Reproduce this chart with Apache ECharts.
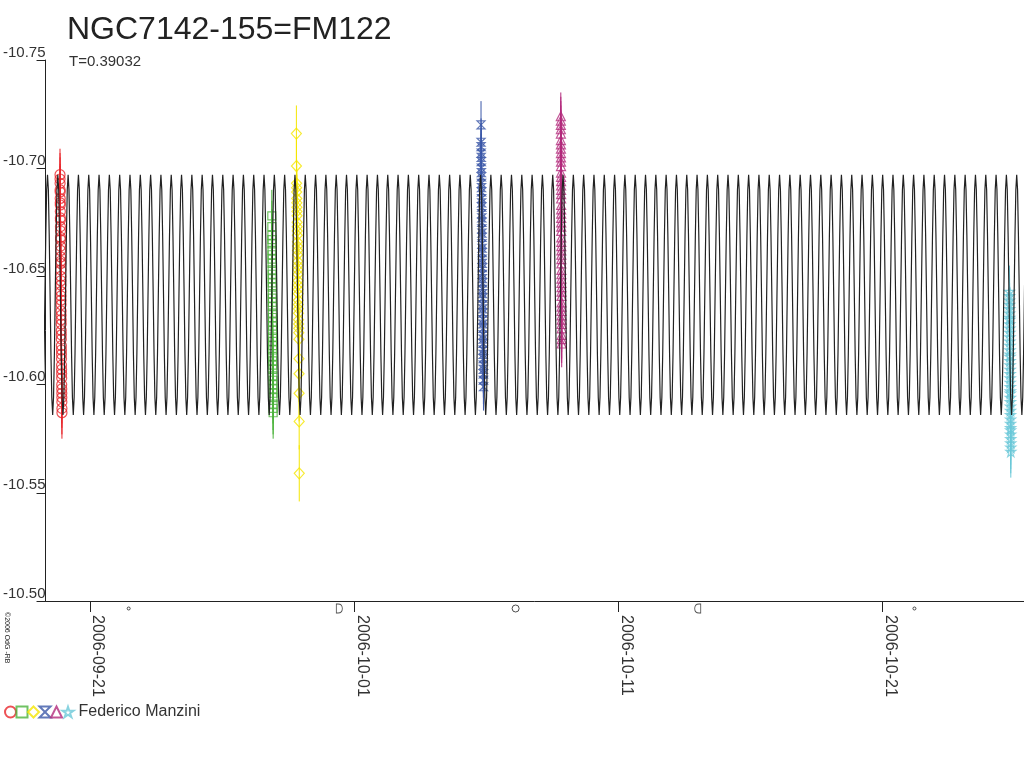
<!DOCTYPE html>
<html>
<head>
<meta charset="utf-8">
<title>NGC7142-155=FM122</title>
<script src="https://cdn.jsdelivr.net/npm/echarts@6/dist/echarts.min.js"></script>
<style>
	html, body { margin: 0; padding: 0; background: #fff; }
	#chart { width: 1024px; height: 768px; }
</style>
</head>
<body>
<div id="chart"></div>
<script>
// time is counted in days from 2006-09-21 00:00 UT
var dayZero = Date.UTC(2006, 8, 21);
var xMin = -1.676, xMax = 35.365;
var dateTicks = [0, 10, 20, 30];
var magMin = -10.75, magMax = -10.50, magStep = 0.05;

// light curve model: period from the chart, one cycle (starts at maximum)
var period = 0.39032;
var peakEpoch = -0.04;
var waveCycle = [-10.697, -10.690, -10.669, -10.642, -10.614, -10.594, -10.586,
	-10.594, -10.614, -10.642, -10.669, -10.690];

// observations, one array pair per night
var redT = [-1.1280, -1.1265, -1.1250, -1.1235, -1.1220, -1.1205, -1.1190, -1.1175, -1.1160, -1.1145,
	-1.1130, -1.1115, -1.1100, -1.1085, -1.1070, -1.1055, -1.1040, -1.1025, -1.1010, -1.0995,
	-1.0980, -1.0965, -1.0950, -1.0935, -1.0920, -1.0905, -1.0890, -1.0875, -1.0860, -1.0845,
	-1.0830, -1.0815, -1.0800, -1.0785, -1.0770, -1.0755, -1.0740, -1.0725, -1.0710, -1.0695,
	-1.0680, -1.0665, -1.0650, -1.0635, -1.0620, -1.0605, -1.0590, -1.0575, -1.0560, -1.0545];
var redV = [-10.697, -10.695, -10.693, -10.690, -10.689, -10.686, -10.684, -10.683, -10.680, -10.677,
	-10.676, -10.673, -10.671, -10.668, -10.667, -10.664, -10.662, -10.659, -10.657, -10.656,
	-10.653, -10.650, -10.648, -10.646, -10.643, -10.641, -10.639, -10.637, -10.634, -10.632,
	-10.630, -10.628, -10.625, -10.623, -10.621, -10.618, -10.616, -10.614, -10.612, -10.609,
	-10.607, -10.605, -10.603, -10.600, -10.598, -10.596, -10.594, -10.592, -10.589, -10.587];

var greenT = [6.8900, 6.8913, 6.8926, 6.8939, 6.8952, 6.8965, 6.8978, 6.8991, 6.9004, 6.9017,
	6.9030, 6.9043, 6.9056, 6.9069, 6.9082, 6.9095, 6.9108, 6.9121, 6.9134, 6.9147,
	6.9160, 6.9173, 6.9186, 6.9199, 6.9212, 6.9225, 6.9238, 6.9251, 6.9264, 6.9277,
	6.9290, 6.9303, 6.9316, 6.9329, 6.9342, 6.9355, 6.9368, 6.9381, 6.9394, 6.9407];
var greenV = [-10.678, -10.673, -10.669, -10.667, -10.665, -10.662, -10.660, -10.658, -10.656, -10.653,
	-10.651, -10.649, -10.647, -10.645, -10.642, -10.640, -10.638, -10.636, -10.633, -10.631,
	-10.629, -10.627, -10.625, -10.622, -10.620, -10.618, -10.616, -10.613, -10.611, -10.609,
	-10.607, -10.604, -10.602, -10.600, -10.598, -10.596, -10.594, -10.591, -10.589, -10.587];

var yellowT = [7.8200, 7.8228, 7.8256, 7.8284, 7.8312, 7.8340, 7.8368, 7.8396, 7.8424, 7.8452,
	7.8480, 7.8508, 7.8536, 7.8564, 7.8592, 7.8620, 7.8648, 7.8676, 7.8704, 7.8732,
	7.8760, 7.8788, 7.8816, 7.8844, 7.8872, 7.8900, 7.8928, 7.8956, 7.8984, 7.9012,
	7.9040, 7.9068, 7.9096, 7.9124, 7.9152, 7.9180, 7.9208, 7.9236, 7.9264, 7.9292];
var yellowV = [-10.716, -10.701, -10.693, -10.691, -10.689, -10.686, -10.684, -10.682, -10.680, -10.678,
	-10.675, -10.673, -10.671, -10.669, -10.666, -10.664, -10.662, -10.660, -10.657, -10.655,
	-10.653, -10.651, -10.648, -10.646, -10.644, -10.642, -10.639, -10.637, -10.635, -10.633,
	-10.630, -10.628, -10.626, -10.624, -10.621, -10.612, -10.605, -10.596, -10.583, -10.559];

var blueT = [14.8100, 14.8119, 14.8138, 14.8157, 14.8176, 14.8195, 14.8214, 14.8233, 14.8252, 14.8271,
	14.8290, 14.8309, 14.8328, 14.8347, 14.8366, 14.8385, 14.8404, 14.8423, 14.8442, 14.8461,
	14.8480, 14.8499, 14.8518, 14.8537, 14.8556, 14.8575, 14.8594, 14.8613, 14.8632, 14.8651,
	14.8670, 14.8689, 14.8708, 14.8727, 14.8746, 14.8765, 14.8784, 14.8803, 14.8822, 14.8841,
	14.8860, 14.8879, 14.8898, 14.8917, 14.8936, 14.8955, 14.8974, 14.8993, 14.9012, 14.9031];
var blueV = [-10.720, -10.712, -10.710, -10.707, -10.705, -10.703, -10.700, -10.698, -10.696, -10.693,
	-10.691, -10.689, -10.686, -10.684, -10.682, -10.679, -10.677, -10.675, -10.672, -10.670,
	-10.668, -10.665, -10.663, -10.661, -10.658, -10.656, -10.654, -10.651, -10.649, -10.647,
	-10.644, -10.642, -10.640, -10.637, -10.635, -10.633, -10.630, -10.628, -10.626, -10.623,
	-10.621, -10.619, -10.616, -10.614, -10.612, -10.609, -10.607, -10.605, -10.602, -10.599];

var magentaT = [17.8300, 17.8307, 17.8314, 17.8321, 17.8328, 17.8335, 17.8342, 17.8349, 17.8356, 17.8363,
	17.8370, 17.8377, 17.8384, 17.8391, 17.8398, 17.8405, 17.8412, 17.8419, 17.8426, 17.8433,
	17.8440, 17.8447, 17.8454, 17.8461, 17.8468, 17.8475, 17.8482, 17.8489, 17.8496, 17.8503,
	17.8510, 17.8517, 17.8524, 17.8531, 17.8538, 17.8545, 17.8552, 17.8559, 17.8566, 17.8573,
	17.8580, 17.8587, 17.8594, 17.8601, 17.8608, 17.8615, 17.8622, 17.8629, 17.8636, 17.8643];
var magentaV = [-10.724, -10.722, -10.720, -10.718, -10.716, -10.713, -10.711, -10.709, -10.707, -10.705,
	-10.703, -10.701, -10.698, -10.696, -10.694, -10.692, -10.690, -10.688, -10.686, -10.683,
	-10.681, -10.679, -10.677, -10.675, -10.673, -10.671, -10.668, -10.666, -10.664, -10.662,
	-10.660, -10.658, -10.656, -10.653, -10.651, -10.649, -10.647, -10.645, -10.643, -10.641,
	-10.638, -10.636, -10.634, -10.632, -10.630, -10.628, -10.626, -10.623, -10.621, -10.619];

var cyanT = [34.8150, 34.8163, 34.8176, 34.8189, 34.8202, 34.8215, 34.8228, 34.8241, 34.8254, 34.8267,
	34.8280, 34.8293, 34.8306, 34.8319, 34.8332, 34.8345, 34.8358, 34.8371, 34.8384, 34.8397,
	34.8410, 34.8423, 34.8436, 34.8449, 34.8462, 34.8475, 34.8488, 34.8501, 34.8514, 34.8527,
	34.8540, 34.8553, 34.8566, 34.8579, 34.8592, 34.8605, 34.8618, 34.8631, 34.8644, 34.8657];
var cyanV = [-10.643, -10.641, -10.639, -10.637, -10.635, -10.633, -10.631, -10.630, -10.628, -10.626,
	-10.624, -10.622, -10.620, -10.618, -10.616, -10.614, -10.613, -10.611, -10.609, -10.607,
	-10.605, -10.603, -10.601, -10.599, -10.597, -10.596, -10.594, -10.592, -10.590, -10.588,
	-10.586, -10.584, -10.582, -10.580, -10.579, -10.577, -10.575, -10.573, -10.571, -10.569];

// error of a single point, per night
var nightErr = [0.012, 0.012, 0.013, 0.011, 0.011, 0.012];

// moon phases
var moonDays = [1.49, 9.46, 16.13, 23.02, 31.22];
var moonPhases = ['new', 'first', 'full', 'last', 'new'];

var observer = 'Federico Manzini';

var nights = [
	{ name: '2006-09-19', t: redT, v: redV, color: '#e8262b', symbol: 'circle', size: 10 },
	{ name: '2006-09-27', t: greenT, v: greenV, color: '#4cb33c', symbol: 'rect', size: 8 },
	{ name: '2006-09-28', t: yellowT, v: yellowV, color: '#f5e600', symbol: 'diamond', size: [10, 11] },
	{ name: '2006-10-05', t: blueT, v: blueV, color: '#3b58a8', symbol: 'path://M0,0L10,0L0,10L10,10Z', size: 8 },
	{ name: '2006-10-08', t: magentaT, v: magentaV, color: '#b32a7c', symbol: 'triangle', size: 9 },
	{ name: '2006-10-25', t: cyanT, v: cyanV, color: '#6ac8d8',
		symbol: 'path://M5,0L6.2,3.6L10,3.6L6.9,5.9L8.1,9.5L5,7.3L1.9,9.5L3.1,5.9L0,3.6L3.8,3.6Z', size: 10 }
];

var moonSymbols = {
	'new': { symbol: 'circle', size: 3 },
	'first': { symbol: 'path://M0,0L2,0C6,0 7,2.5 7,5C7,7.5 6,10 2,10L0,10Z', size: [6, 9] },
	'full': { symbol: 'circle', size: 7 },
	'last': { symbol: 'path://M7,0L5,0C1,0 0,2.5 0,5C0,7.5 1,10 5,10L7,10Z', size: [6, 9] }
};

function fmtDate(d) {
	return new Date(dayZero + d * 86400000).toISOString().slice(0, 10);
}

// repeat the read cycle along the time axis
var waveData = [];
var k0 = Math.floor((xMin - peakEpoch) / period) - 1;
var k1 = Math.ceil((xMax - peakEpoch) / period) + 1;
for (var k = k0; k <= k1; k++) {
	for (var j = 0; j < waveCycle.length; j++) {
		waveData.push([peakEpoch + (k + j / waveCycle.length) * period, waveCycle[j]]);
	}
}

var font = 'Liberation Sans, Arial, sans-serif';
var series = [];

nights.forEach(function (n, i) {
	var err = nightErr[i];
	series.push({
		type: 'custom',
		name: 'err' + i,
		z: 2,
		silent: true,
		renderItem: function (params, api) {
			var p1 = api.coord([api.value(0), api.value(1)]);
			var p2 = api.coord([api.value(0), api.value(2)]);
			return {
				type: 'line',
				shape: { x1: p1[0], y1: p1[1], x2: p2[0], y2: p2[1] },
				style: { stroke: n.color, lineWidth: 1 }
			};
		},
		encode: { x: 0, y: [1, 2] },
		data: n.t.map(function (tt, m) { return [tt, n.v[m] - err, n.v[m] + err]; })
	});
	series.push({
		type: 'scatter',
		name: n.name,
		z: 3,
		symbol: n.symbol,
		symbolSize: n.size,
		itemStyle: { color: 'rgba(0,0,0,0)', borderColor: n.color, borderWidth: 1.2 },
		data: n.t.map(function (tt, m) { return [tt, n.v[m]]; })
	});
});

series.push({
	type: 'line',
	name: 'model',
	z: 4,
	silent: true,
	showSymbol: false,
	clip: true,
	lineStyle: { color: '#222', width: 1.2 },
	data: waveData
});

series.push({
	type: 'scatter',
	name: 'moon',
	xAxisIndex: 1,
	yAxisIndex: 1,
	silent: true,
	itemStyle: { color: 'rgba(0,0,0,0)', borderColor: '#222', borderWidth: 1 },
	data: moonDays.map(function (d, i) {
		var s = moonSymbols[moonPhases[i]];
		return { value: [d, 0.5], symbol: s.symbol, symbolSize: s.size };
	})
});

var chart = echarts.init(document.getElementById('chart'));
chart.setOption({
	animation: false,
	backgroundColor: '#fff',
	title: [
		{ text: 'NGC7142-155=FM122', left: 62, top: 9,
			textStyle: { fontSize: 32, fontWeight: 'normal', color: '#222', fontFamily: font } },
		{ text: 'T=0.39032', left: 64, top: 49,
			textStyle: { fontSize: 15, fontWeight: 'normal', color: '#333', fontFamily: font } }
	],
	legend: {
		left: 4, top: 704, padding: 0,
		itemWidth: 11, itemHeight: 11, itemGap: -1.5,
		data: nights.map(function (n) { return n.name; }),
		formatter: function (name) { return name === nights[nights.length - 1].name ? observer : ''; },
		textStyle: { fontSize: 16, color: '#333', fontFamily: font },
		selectedMode: false
	},
	graphic: [{
		type: 'text', x: 10, y: 612, rotation: -Math.PI / 2,
		style: { text: '\u00a92006 OdG -RB', fontSize: 7, fill: '#222', fontFamily: font }
	}],
	grid: [
		{ left: 45, right: 0, top: 60, bottom: 167 },
		{ left: 45, right: 0, top: 604, height: 9 }
	],
	xAxis: [{
		type: 'value', min: xMin, max: xMax,
		axisLine: { lineStyle: { color: '#222', width: 1 } },
		axisTick: { customValues: dateTicks, length: 11, lineStyle: { color: '#222' } },
		axisLabel: {
			customValues: dateTicks, rotate: -90, margin: 14, verticalAlign: 'bottom',
			formatter: fmtDate, fontSize: 16, color: '#333', fontFamily: font
		},
		splitLine: { show: false }
	}, {
		type: 'value', gridIndex: 1, min: xMin, max: xMax, show: false
	}],
	yAxis: [{
		type: 'value', inverse: true, min: magMin, max: magMax, interval: magStep,
		axisLine: { show: true, onZero: false, lineStyle: { color: '#222', width: 1 } },
		axisTick: { show: true, length: 9, lineStyle: { color: '#222' } },
		axisLabel: {
			margin: 0, verticalAlign: 'bottom', lineHeight: 15,
			formatter: function (v) { return v.toFixed(2); },
			fontSize: 15, color: '#333', fontFamily: font
		},
		splitLine: { show: false }
	}, {
		type: 'value', gridIndex: 1, min: 0, max: 1, show: false
	}],
	series: series
});
</script>
</body>
</html>
